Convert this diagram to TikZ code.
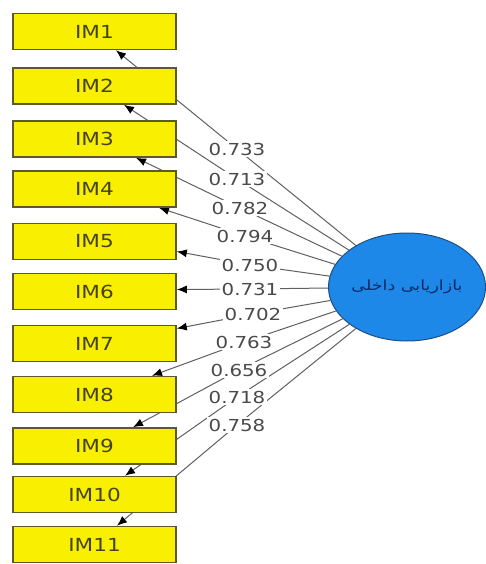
\documentclass[tikz,border=0pt]{standalone}
\usepackage{fontspec}
\setmainfont{DejaVu Sans}[FakeStretch=1.2]
\newfontfamily\arabicfont[Script=Arabic,FakeStretch=1.25]{DejaVu Sans}
\TeXXeTstate=1
\usetikzlibrary{shapes.geometric,arrows.meta,calc}
\pgfdeclarelayer{background}
\pgfsetlayers{background,main}

\definecolor{boxfill}{HTML}{F8F000}
\definecolor{boxline}{HTML}{5C5A2C}
\definecolor{boxtext}{HTML}{45431E}
\definecolor{ovalfill}{HTML}{1E88E8}
\definecolor{ovalline}{HTML}{1C4E86}
\definecolor{ovaltext}{HTML}{0C2A66}
\definecolor{wire}{HTML}{606060}
\definecolor{numtext}{HTML}{4A4A4A}

\begin{document}
\begin{tikzpicture}[x=1pt,y=-1pt,
  item/.style={draw=boxline, fill=boxfill, line width=1.6pt,
    minimum width=163pt, minimum height=36pt, inner sep=0pt,
    text=boxtext, font=\fontsize{18pt}{20pt}\selectfont},
  oval/.style={ellipse, draw=ovalline, fill=ovalfill, line width=1pt,
    minimum width=154pt, minimum height=108pt, inner sep=0pt,
    text=ovaltext, font=\arabicfont\fontsize{14pt}{16pt}\selectfont},
  loading/.style={fill=white, inner sep=1.5pt, text=numtext,
    font=\fontsize{16.5pt}{18pt}\selectfont},
  wireline/.style={draw=wire, line width=1pt},
  tipline/.style={wireline, -{Latex[length=10pt,width=8pt,fill=black,color=black]}}
]
\useasboundingbox (0,0) rectangle (486,564);

% indicator boxes
\node[item] (im1)  at (94.5,31.5)  {IM1};
\node[item] (im2)  at (94.5,86)    {IM2};
\node[item] (im3)  at (94.5,139)   {IM3};
\node[item] (im4)  at (94.5,189)   {IM4};
\node[item] (im5)  at (94.5,241.5) {IM5};
\node[item] (im6)  at (94.5,291.5) {IM6};
\node[item] (im7)  at (94.5,343.5) {IM7};
\node[item] (im8)  at (94.5,394.5) {IM8};
\node[item] (im9)  at (94.5,446)   {IM9};
\node[item] (im10) at (94.5,494.5) {IM10};
\node[item] (im11) at (94.5,544.5) {IM11};

% latent variable
\node[oval] (lv) at (407,287) {\beginR بازاریابی داخلی\endR};

% arrow end points on the boxes
\coordinate (t1)  at ([xshift=21.5pt]im1.south);
\coordinate (t2)  at ([xshift=29.5pt]im2.south);
\coordinate (t3)  at ([xshift=41.5pt]im3.south);
\coordinate (t4)  at ([xshift=64.5pt]im4.south);
\coordinate (t5)  at ([yshift=-10pt]im5.east);
\coordinate (t6)  at ([yshift=2pt]im6.east);
\coordinate (t7)  at ([yshift=15pt]im7.east);
\coordinate (t8)  at ([xshift=57.5pt]im8.north);
\coordinate (t9)  at ([xshift=38.5pt]im9.north);
\coordinate (t10) at ([xshift=30.5pt]im10.north);
\coordinate (t11) at ([xshift=22.5pt]im11.north);

% outer loadings
\node[loading] (l1)  at (237,149) {0.733};
\node[loading] (l2)  at (237,179) {0.713};
\node[loading] (l3)  at (240,208) {0.782};
\node[loading] (l4)  at (245,236) {0.794};
\node[loading] (l5)  at (250,265) {0.750};
\node[loading] (l6)  at (250,289) {0.731};
\node[loading] (l7)  at (253,314) {0.702};
\node[loading] (l8)  at (244,342) {0.763};
\node[loading] (l9)  at (239,370) {0.656};
\node[loading] (l10) at (237,397) {0.718};
\node[loading] (l11) at (237,425) {0.758};

\begin{pgfonlayer}{background}
  \fill[white] (0,0) rectangle (486,564);
  \foreach \i in {1,...,11} {
    \draw[wireline] (lv) -- (l\i);
    \draw[tipline] (l\i) -- (t\i);
  }
\end{pgfonlayer}
\end{tikzpicture}
\end{document}
